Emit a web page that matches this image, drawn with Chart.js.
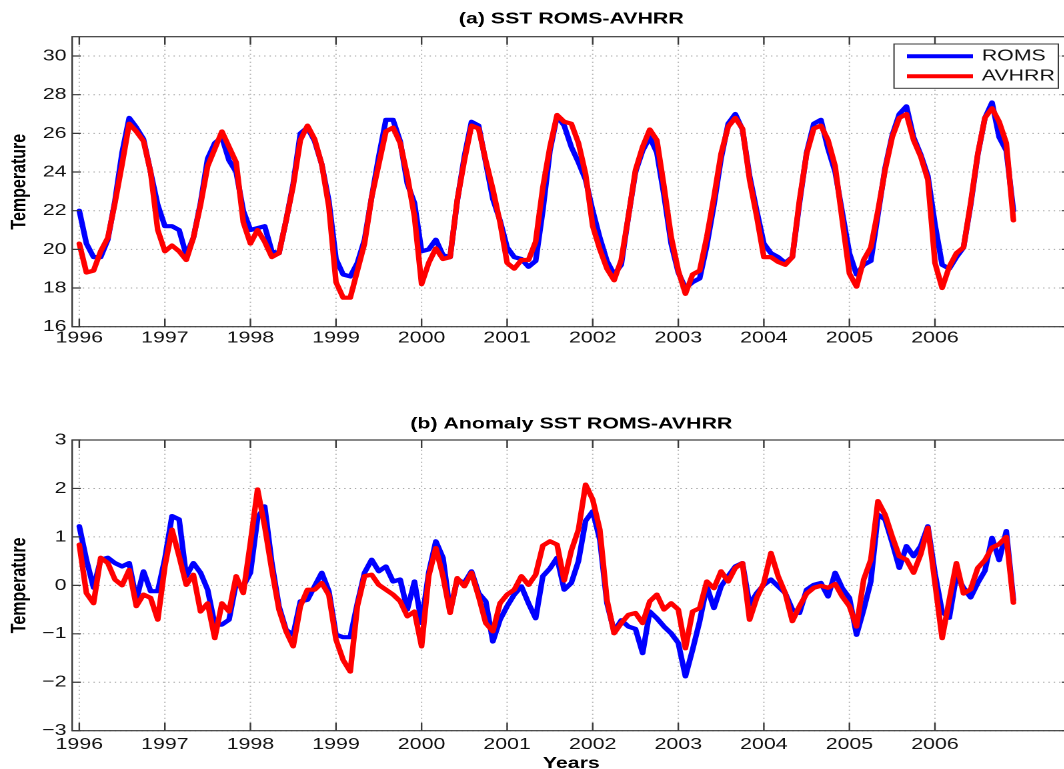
<!DOCTYPE html>
<html>
<head>
<meta charset="utf-8">
<title>SST ROMS-AVHRR</title>
<script src="https://cdn.jsdelivr.net/npm/chart.js@4.4.0/dist/chart.umd.min.js"></script>
<style>
  html, body { margin: 0; padding: 0; width: 1064px; height: 769px; overflow: hidden; background: #fff; }
  canvas { position: absolute; left: 0; }
</style>
</head>
<body>
<!-- the original figure is stretched sideways, so both canvases are drawn narrow and widened by css -->
<canvas id="sstChart" width="806" height="384" style="top:0;width:1075px;height:384px"></canvas>
<canvas id="anomalyChart" width="806" height="400" style="top:384px;width:1075px;height:400px"></canvas>
<script>
// monthly values, Jan 1996 .. Dec 2006
const startYear = 1996;
const yearTicks = [1996, 1997, 1998, 1999, 2000, 2001, 2002, 2003, 2004, 2005, 2006];
const sstTicks = [16, 18, 20, 22, 24, 26, 28, 30];
const anomalyTicks = [-3, -2, -1, 0, 1, 2, 3];

const romsSST = [
  22.0, 20.3, 19.6, 19.6, 20.5, 22.5, 25.0, 26.8, 26.3, 25.7, 24.0, 22.3,
  21.2, 21.2, 21.0, 19.7, 20.6, 22.4, 24.7, 25.5, 25.8, 24.6, 24.0, 22.0,
  21.0, 21.1, 21.2, 19.9, 19.8, 21.5, 23.4, 26.0, 26.3, 25.6, 24.4, 22.5,
  19.5, 18.7, 18.6, 19.3, 20.5, 22.7, 24.8, 26.7, 26.7, 25.6, 23.4, 22.4,
  19.9, 20.0, 20.5, 19.7, 19.6, 22.5, 24.8, 26.6, 26.4, 24.5, 22.6, 21.5,
  20.1, 19.6, 19.5, 19.1, 19.4, 22.0, 25.1, 26.9, 26.4, 25.3, 24.5, 23.6,
  22.0, 20.6, 19.4, 18.7, 19.2, 21.7, 24.0, 25.1, 25.8, 25.0, 22.8, 20.3,
  18.8, 18.0, 18.3, 18.5, 20.2, 22.3, 24.7, 26.5, 27.0, 26.2, 23.8, 22.0,
  20.3, 19.8, 19.6, 19.3, 19.6, 22.4, 25.0, 26.5, 26.7, 25.2, 24.0, 21.9,
  19.8, 18.7, 19.2, 19.4, 21.8, 24.2, 25.9, 27.0, 27.4, 25.8, 24.9, 23.8,
  21.3, 19.2, 19.0, 19.6, 20.1, 22.3, 24.9, 26.8, 27.6, 25.8, 25.1, 22.0
];
const avhrrSST = [
  20.3, 18.8, 18.9, 19.9, 20.6, 22.4, 24.4, 26.5, 26.1, 25.6, 24.0, 21.0,
  19.9, 20.2, 19.9, 19.45, 20.6, 22.3, 24.3, 25.2, 26.1, 25.3, 24.5, 21.4,
  20.3, 21.0, 20.4, 19.6, 19.8, 21.5, 23.3, 25.65, 26.4, 25.7, 24.4, 22.2,
  18.3, 17.5, 17.5, 18.9, 20.3, 22.7, 24.4, 26.1, 26.3, 25.5, 23.8, 21.7,
  18.2, 19.3, 20.05, 19.5, 19.6, 22.55, 24.6, 26.4, 26.25, 24.6, 23.1, 21.4,
  19.3, 19.0, 19.45, 19.45, 20.4, 23.2, 25.3, 26.95, 26.6, 26.5, 25.5, 23.9,
  21.2, 20.0, 19.0, 18.4, 19.45, 21.7, 24.1, 25.3, 26.2, 25.65, 23.25, 20.65,
  18.9, 17.7, 18.7, 18.9, 20.65, 22.7, 24.95, 26.35, 26.8, 26.25, 23.6, 21.7,
  19.6, 19.6, 19.35, 19.2, 19.6, 22.55, 24.95, 26.25, 26.4, 25.65, 24.3, 21.5,
  18.75, 18.07, 19.45, 20.1, 22.0, 24.1, 25.8, 26.8, 27.0, 25.65, 24.8, 23.6,
  19.3, 18.0, 19.1, 19.8, 20.1, 22.4, 24.95, 26.8, 27.3, 26.6, 25.5, 21.5
];
const romsAnomaly = [
  1.22, 0.53, -0.05, 0.53, 0.57, 0.46, 0.39, 0.46, -0.30, 0.29, -0.12, -0.12,
  0.55, 1.43, 1.36, 0.19, 0.46, 0.26, -0.09, -0.81, -0.81, -0.71, 0.05, -0.02,
  0.26, 1.39, 1.63, 0.46, -0.43, -0.92, -1.02, -0.33, -0.30, -0.02, 0.26, -0.12,
  -1.02, -1.07, -1.07, -0.37, 0.26, 0.53, 0.29, 0.39, 0.08, 0.12, -0.50, 0.08,
  -0.78, 0.26, 0.91, 0.57, -0.54, 0.12, 0.05, 0.29, -0.16, -0.33, -1.16, -0.71,
  -0.43, -0.19, -0.02, -0.37, -0.68, 0.19, 0.35, 0.57, -0.09, 0.05, 0.50, 1.33,
  1.53, 0.94, -0.37, -0.95, -0.72, -0.85, -0.90, -1.40, -0.54, -0.68, -0.85, -0.99,
  -1.19, -1.88, -1.33, -0.74, -0.02, -0.47, -0.02, 0.19, 0.39, 0.46, -0.40, -0.16,
  0.01, 0.12, -0.02, -0.16, -0.50, -0.57, -0.09, 0.01, 0.05, -0.23, 0.26, -0.06,
  -0.26, -1.02, -0.50, 0.08, 1.46, 1.36, 0.88, 0.36, 0.81, 0.60, 0.81, 1.22,
  0.25, -0.55, -0.67, 0.20, -0.05, -0.25, 0.05, 0.30, 0.98, 0.52, 1.12, -0.30
];
const avhrrAnomaly = [
  0.84, -0.16, -0.37, 0.57, 0.46, 0.12, 0.00, 0.32, -0.43, -0.19, -0.26, -0.71,
  0.39, 1.15, 0.60, 0.01, 0.22, -0.54, -0.37, -1.09, -0.37, -0.54, 0.19, -0.16,
  0.88, 1.98, 1.22, 0.32, -0.50, -0.95, -1.26, -0.43, -0.09, -0.09, 0.05, -0.20,
  -1.12, -1.54, -1.78, -0.43, 0.19, 0.22, 0.01, -0.09, -0.19, -0.33, -0.64, -0.54,
  -1.26, 0.19, 0.77, 0.19, -0.57, 0.15, -0.02, 0.26, -0.23, -0.78, -0.95, -0.37,
  -0.19, -0.09, 0.19, 0.01, 0.22, 0.82, 0.91, 0.84, 0.10, 0.72, 1.15, 2.08,
  1.77, 1.15, -0.30, -0.99, -0.78, -0.61, -0.57, -0.78, -0.33, -0.19, -0.50, -0.37,
  -0.50, -1.30, -0.54, -0.47, 0.08, -0.06, 0.29, 0.08, 0.36, 0.46, -0.71, -0.26,
  0.05, 0.67, 0.19, -0.16, -0.74, -0.43, -0.17, -0.05, -0.01, -0.05, 0.03, -0.23,
  -0.43, -0.85, 0.12, 0.53, 1.74, 1.46, 1.01, 0.60, 0.53, 0.26, 0.64, 1.19,
  0.05, -1.09, -0.30, 0.46, -0.17, -0.08, 0.36, 0.52, 0.78, 0.85, 1.00, -0.36
];

const FONT = '"Liberation Sans", Arial, Helvetica, sans-serif';
const AXIS_COLOR = '#3a3a3a';
Chart.defaults.font.family = FONT;
Chart.defaults.font.size = 16;
Chart.defaults.color = '#111';

function toPoints(values) {
  return values.map((v, i) => ({ x: startYear + i / 12, y: v }));
}

function minusLabel(v) {
  return v < 0 ? '\u2212' + (-v) : String(v);
}

// dotted grid under the data
const dottedGrid = {
  id: 'dottedGrid',
  beforeDatasetsDraw(chart) {
    const { ctx, chartArea: a, scales } = chart;
    ctx.save();
    ctx.strokeStyle = '#a3a3a3';
    ctx.lineWidth = 1;
    ctx.setLineDash([1, 3]);
    ctx.beginPath();
    scales.x.ticks.forEach(t => {
      const x = scales.x.getPixelForValue(t.value);
      ctx.moveTo(x, a.bottom);
      ctx.lineTo(x, a.top);
    });
    scales.y.ticks.forEach(t => {
      const y = scales.y.getPixelForValue(t.value);
      ctx.moveTo(a.left, y);
      ctx.lineTo(a.right, y);
    });
    ctx.stroke();
    ctx.restore();
  }
};

// box round the axes with inward tick marks
const axesFrame = {
  id: 'axesFrame',
  afterDraw(chart) {
    const { ctx, chartArea: a, scales } = chart;
    ctx.save();
    ctx.strokeStyle = AXIS_COLOR;
    ctx.lineWidth = 1.2;
    ctx.strokeRect(a.left, a.top, a.right - a.left, a.bottom - a.top);
    ctx.beginPath();
    scales.x.ticks.forEach(t => {
      const x = scales.x.getPixelForValue(t.value);
      ctx.moveTo(x, a.bottom); ctx.lineTo(x, a.bottom - 8);
      ctx.moveTo(x, a.top); ctx.lineTo(x, a.top + 8);
    });
    scales.y.ticks.forEach(t => {
      const y = scales.y.getPixelForValue(t.value);
      ctx.moveTo(a.left, y); ctx.lineTo(a.left + 6.5, y);
      ctx.moveTo(a.right, y); ctx.lineTo(a.right - 6.5, y);
    });
    ctx.stroke();
    ctx.restore();
  }
};

// legend in the top right corner of plot (a)
const legendBox = {
  id: 'legendBox',
  afterDraw(chart) {
    const { ctx, chartArea: a } = chart;
    const w = 123.2, h = 44.3;
    const left = a.right - 9.1 - w, top = a.top + 7.3;
    ctx.save();
    ctx.fillStyle = '#fff';
    ctx.fillRect(left, top, w, h);
    ctx.strokeStyle = AXIS_COLOR;
    ctx.lineWidth = 1;
    ctx.strokeRect(left, top, w, h);
    ctx.font = '16px ' + FONT;
    ctx.textBaseline = 'middle';
    ctx.textAlign = 'left';
    chart.data.datasets.forEach((ds, i) => {
      const y = top + 12.3 + i * 20;
      ctx.strokeStyle = ds.borderColor;
      ctx.lineWidth = 4;
      ctx.beginPath();
      ctx.moveTo(left + 9.7, y);
      ctx.lineTo(left + 59.2, y);
      ctx.stroke();
      ctx.fillStyle = '#111';
      ctx.fillText(ds.label, left + 65.8, y);
    });
    ctx.restore();
  }
};

function makeChart(canvasId, opts) {
  return new Chart(document.getElementById(canvasId), {
    type: 'line',
    data: {
      datasets: [
        { label: 'ROMS', data: toPoints(opts.roms), borderColor: '#0000ff', order: 2 },
        { label: 'AVHRR', data: toPoints(opts.avhrr), borderColor: '#ff0000', order: 1 }
      ]
    },
    options: {
      responsive: false,
      devicePixelRatio: 2,
      animation: false,
      events: [],
      layout: { padding: { left: 0, right: 3.4, top: 0, bottom: 0 } },
      elements: {
        point: { radius: 0 },
        line: { borderWidth: 4.2, tension: 0, borderJoinStyle: 'round', borderCapStyle: 'round' }
      },
      plugins: {
        legend: { display: false },
        tooltip: { enabled: false },
        title: {
          display: true,
          text: opts.title,
          fullSize: false,
          color: '#000',
          font: { size: 16, weight: 'bold' },
          padding: opts.titlePadding
        }
      },
      scales: {
        x: {
          type: 'linear',
          min: startYear - 1 / 12,
          max: 2007 + 7 / 12,
          afterBuildTicks: s => { s.ticks = yearTicks.map(v => ({ value: v })); },
          afterFit: s => { s.height = opts.xAxisHeight; },
          grid: { display: false, drawTicks: false },
          border: { display: false },
          ticks: { autoSkip: false, maxRotation: 0, minRotation: 0, padding: opts.xTickPad, callback: v => String(v) },
          title: opts.xTitle
        },
        y: {
          min: opts.yMin,
          max: opts.yMax,
          afterBuildTicks: s => { s.ticks = opts.yTicks.map(v => ({ value: v })); },
          afterFit: s => { s.width = 54.1; },
          grid: { display: false, drawTicks: false },
          border: { display: false },
          ticks: { autoSkip: false, padding: 4.2, callback: minusLabel },
          title: {
            display: true,
            text: 'Temperature',
            color: '#000',
            font: { size: 16, weight: 'bold' },
            padding: { top: 5, bottom: 0 }
          }
        }
      }
    },
    plugins: opts.plugins
  });
}

makeChart('sstChart', {
  title: '(a) SST ROMS-AVHRR',
  titlePadding: { top: 9.4, bottom: 8.1 },
  roms: romsSST,
  avhrr: avhrrSST,
  yMin: 16,
  yMax: 31,
  yTicks: sstTicks,
  xAxisHeight: 57.3,
  xTickPad: 2,
  xTitle: { display: false },
  plugins: [dottedGrid, axesFrame, legendBox]
});

makeChart('anomalyChart', {
  title: '(b) Anomaly SST ROMS-AVHRR',
  titlePadding: { top: 30.7, bottom: 6.1 },
  roms: romsAnomaly,
  avhrr: avhrrAnomaly,
  yMin: -3,
  yMax: 3,
  yTicks: anomalyTicks,
  xAxisHeight: 53.3,
  xTickPad: 4.2,
  xTitle: {
    display: true,
    text: 'Years',
    color: '#000',
    font: { size: 16, weight: 'bold' },
    padding: { top: 0, bottom: 10.9 }
  },
  plugins: [dottedGrid, axesFrame]
});
</script>
</body>
</html>
